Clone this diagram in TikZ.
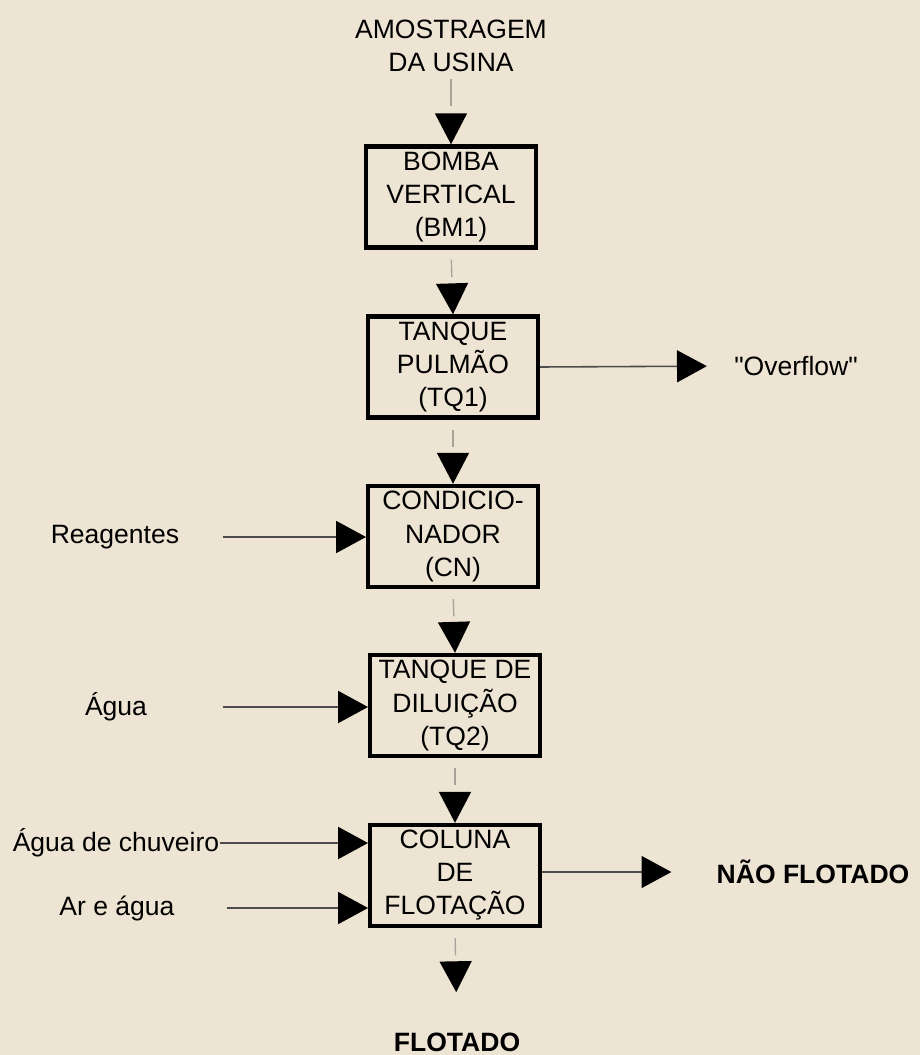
\documentclass[tikz,border=0pt]{standalone}
\usepackage{fontspec}
\setmainfont{Liberation Sans}[Ligatures=TeXOff]
\usetikzlibrary{arrows.meta}

\definecolor{papel}{RGB}{238,228,211}
\definecolor{traco}{RGB}{170,162,155}

\tikzset{
  caixa/.style={draw, line width=2.5pt, minimum width=96.5pt, minimum height=57.5pt, inner sep=1pt, align=center},
  rotulo/.style={inner sep=0pt, align=center},
  desce/.style={traco, line width=0.8pt, dash pattern=on 0pt off 5.7pt on 9.7pt off 40pt,
    -{Triangle[length=17.6pt,width=18.2pt,color=black]}},
  entra/.style={black!70, line width=0.9pt, -{Triangle[length=17pt,width=18.2pt,color=black]}}
}

\begin{document}
\begin{tikzpicture}[x=0.02cm,y=-0.02cm,font=\fontsize{15.1}{18.8}\selectfont]
\fill[papel] (0,0) rectangle (920,1055);
\useasboundingbox (0,0) rectangle (920,1055);

% linha principal
\node[rotulo] (amostra) at (451,46) {AMOSTRAGEM\\DA USINA};
\node[caixa] (bm1) at (451,197) {BOMBA\\VERTICAL\\(BM1)};
\node[caixa] (tq1) at (453,367) {TANQUE\\PULMÃO\\(TQ1)};
\node[caixa] (cn) at (453,536.5) {CONDICIO-\\NADOR\\(CN)};
\node[caixa] (tq2) at (455,705.5) {TANQUE DE\\DILUIÇÃO\\(TQ2)};
\node[caixa] (col) at (455,875.5) {COLUNA\\DE\\FLOTAÇÃO};
\node[rotulo,font=\fontsize{15.1}{18.8}\selectfont\bfseries] (flot) at (457,1042) {FLOTADO};

% entradas e saidas laterais
\node[rotulo] (ovf) at (796,366) {"Overflow"};
\node[rotulo,font=\fontsize{15.1}{18.8}\selectfont\bfseries] (nf) at (813,872) {NÃO FLOTADO};
\node[rotulo] (reag) at (115,537) {Reagentes};
\node[rotulo] (agua) at (116,707) {Água};
\node[rotulo] (agch) at (116,843) {Água de chuveiro};
\node[rotulo] (arag) at (117,908) {Ar e água};

\draw[desce, dash pattern=on 0pt off 4pt on 15.4pt off 40pt] (amostra.south) -- (bm1.north);
\draw[desce] (bm1.south) -- (tq1.north);
\draw[desce] (tq1.south) -- (cn.north);
\draw[desce] (cn.south) -- (tq2.north);
\draw[desce] (tq2.south) -- (col.north);
\draw[desce, shorten >=22.8pt] (col.south) -- (flot.north);

\draw[entra, shorten >=15.4pt] (tq1.east) -- (ovf.west);
\draw[entra, shorten >=25.6pt] (col.east |- nf.west) -- (nf.west);
\draw[entra, shorten <=25pt] (reag.east) -- (reag.east -| cn.west);
\draw[entra, shorten <=43pt] (agua.east) -- (agua.east -| tq2.west);
\draw[entra] (agch.east) -- (agch.east -| col.west);
\draw[entra, shorten <=29.6pt] (arag.east) -- (arag.east -| col.west);
\end{tikzpicture}
\end{document}
